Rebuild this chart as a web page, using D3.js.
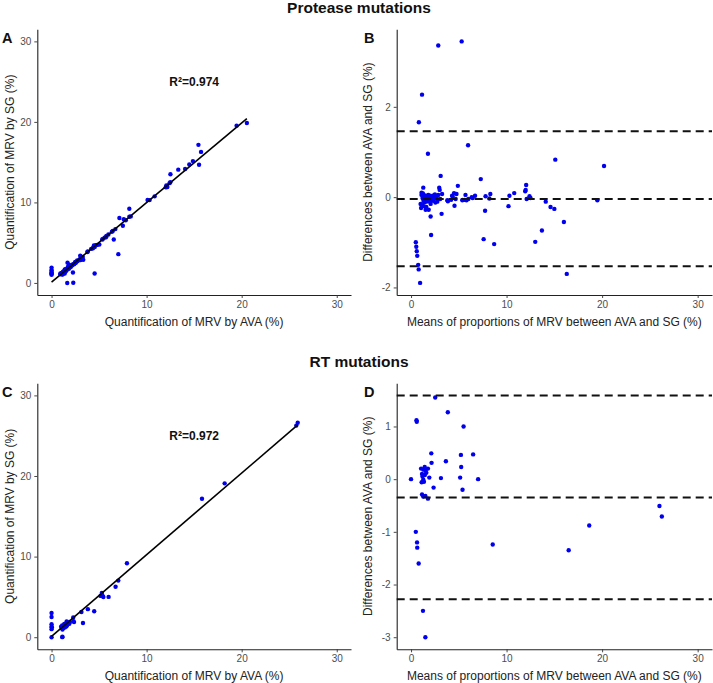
<!DOCTYPE html>
<html><head><meta charset="utf-8">
<script src="https://cdn.jsdelivr.net/npm/d3@7"></script>
<style>
body{margin:0;background:#fff}
text{font-family:"Liberation Sans",Arial,sans-serif}
</style>
</head><body>
<svg id="chart" width="713" height="683"></svg>
<script>
// ---- Data (Bland-Altman: mean of AVA & SG, difference AVA - SG) ----
const proteaseMeans = [2.85,5.3,1.15,0.82,5.97,1.77,15.1,20.2,3.1,7.3,2.95,3.0,4.9,12.05,11.95,10.8,10.3,10.2,12.1,12.5,
  1.28,1.1,8.3,8.2,7.8,7.75,7.6,8.7,6.7,6.45,6.0,5.7,5.6,5.4,4.76,4.5,4.3,4.55,4.2,3.86,3.2,2.05,2.1,1.85,1.53,1.05,
  0.5,0.55,0.6,0.65,0.75,0.8,0.95,14.1,14.6,15.0,13.7,13.0,16.0,16.3,19.5,
  1.1,1.2,1.25,1.3,1.35,1.4,1.45,1.5,1.55,1.6,1.7,1.75,1.8,1.9,1.95,2.0,2.1,2.2,2.3,2.35,2.45,2.5,2.6,2.7,2.75,2.85,3.05,3.25,
  1.0,1.15,1.3,1.6,2.05,2.55,3.8,4.35,4.67,5.37,5.8,6.35,12.4,12.0];
const proteaseDiffs = [3.36,3.45,2.27,1.66,1.15,0.96,0.83,0.69,0.47,0.40,0.21,0.16,0.25,0.27,0.13,0.09,0.03,-0.2,-0.04,-0.02,
  0.21,0.10,0.07,-0.03,0.02,-0.30,-0.93,-1.04,0.03,-0.02,-0.04,0.05,-0.06,-0.06,0.07,0.09,0.03,-0.19,-0.06,-0.09,-0.37,-0.43,-0.84,-0.28,-0.28,-0.24,
  -1.0,-1.1,-1.2,-1.3,-1.5,-1.6,-1.9,-0.1,-0.22,-0.26,-0.74,-0.99,-0.55,-1.7,-0.07,
  0.05,-0.02,0.08,-0.08,0.0,-0.12,0.04,-0.05,0.02,-0.1,0.0,-0.06,0.05,-0.02,-0.1,0.03,-0.05,0.0,-0.08,0.04,-0.03,0.06,-0.02,0.01,-0.1,0.05,-0.04,0.07,
  -0.15,-0.18,-0.2,-0.22,-0.15,-0.12,-0.07,0.02,-0.04,-0.07,-0.07,0.0,0.02,0.16];
const rtMeans = [0,2.53,3.85,0.57,0.6,5.5,2.12,6.5,5.22,3.65,2.15,5.25,1.05,1.43,1.77,1.53,1.15,1.2,1.28,1.91,1.11,3.13,5.14,7.02,
  2.36,5.39,1.15,1.28,1.5,1.77,0.5,0.63,0.65,0.8,1.25,1.5,8.55,16.5,18.65,26.0,26.25,1.3,1.6,1.45,1.35];
const rtDiffs = [0,1.55,1.27,1.12,1.09,1.0,0.49,0.47,0.46,0.34,0.31,0.23,0.20,0.23,0.20,0.16,0.10,0.05,-0.01,0.03,-0.06,0.02,0.03,0.0,
  -0.16,-0.20,-0.29,-0.33,-0.32,-0.37,-1.0,-1.2,-1.3,-1.6,-2.5,-3.0,-1.24,-1.35,-0.88,-0.51,-0.71,0.18,0.12,0.08,-0.05];
// limits of agreement: upper, mean, lower
const proteaseLimits = [1.46, -0.04, -1.53];
const rtLimits = [1.59, -0.35, -2.28];
const scatterTicks = [0, 10, 20, 30];
const proteaseDiffTicks = [-2, 0, 2];
const rtDiffTicks = [-3, -2, -1, 0, 1];
const r2Labels = ["R\u00B2=0.974", "R\u00B2=0.972"];
const rowTitles = ["Protease mutations", "RT mutations"];
const panelLetters = [["A", "B"], ["C", "D"]];
const scatterXTitle = "Quantification of MRV by AVA (%)";
const scatterYTitle = "Quantification of MRV by SG (%)";
const baXTitle = "Means of proportions of MRV between AVA and SG (%)";
const baYTitle = "Differences between AVA and SG (%)";

// ---- Layout ----
const svg = d3.select("#chart");
const cols = [{left: 37.3, right: 351}, {left: 396.7, right: 712}];
const rows = [{top: 29.3, bottom: 295, title: 13.3}, {top: 383.3, bottom: 649.3, title: 367.2}];
const pointColor = "#0000ee";
const fmt = d => String(d);

function styleAxis(g) {
  g.select(".domain").attr("stroke", "#222").attr("stroke-width", 1.1);
  g.selectAll(".tick line").attr("stroke", "#333").attr("stroke-width", 0.9);
  g.selectAll(".tick text").attr("fill", "#4d4d4d").attr("font-size", 10)
    .style("font-family", '"Liberation Sans",Arial,sans-serif');
}

function drawAxes(x, y, row, xTicks, yTicks, xTitle, yTitle, col) {
  const gx = svg.append("g").attr("transform", `translate(0,${row.bottom})`)
    .call(d3.axisBottom(x).tickValues(xTicks).tickFormat(fmt).tickSize(3).tickSizeOuter(0).tickPadding(3));
  styleAxis(gx);
  const gy = svg.append("g").attr("transform", `translate(${col.left},0)`)
    .call(d3.axisLeft(y).tickValues(yTicks).tickFormat(fmt).tickSize(3).tickSizeOuter(0).tickPadding(3));
  styleAxis(gy);
  svg.append("text").attr("x", (col.left + col.right) / 2).attr("y", row.bottom + 30.5)
    .attr("text-anchor", "middle").attr("font-size", 12).attr("fill", "#222").text(xTitle);
  const yc = (row.top + row.bottom) / 2;
  const xt = col === cols[0] ? 14.3 : 372.3;
  svg.append("text").attr("transform", `translate(${xt},${yc}) rotate(-90)`)
    .attr("text-anchor", "middle").attr("font-size", 12).attr("fill", "#222").text(yTitle);
}

function drawRow(i, means, diffs, limits, diffTicks) {
  const row = rows[i];
  const ava = means.map((m, k) => m + diffs[k] / 2);
  const sg = means.map((m, k) => m - diffs[k] / 2);

  // Title
  svg.append("text").attr("x", 359).attr("y", row.title).attr("text-anchor", "middle")
    .attr("font-size", 15.5).attr("font-weight", "bold").attr("fill", "#111").text(rowTitles[i]);

  // ---- Scatter panel ----
  const c0 = cols[0];
  const x = d3.scaleLinear().domain([-1.5, 31.5]).range([c0.left, c0.right]);
  const y = d3.scaleLinear().domain([-1.5, 31.5]).range([row.bottom, row.top]);
  drawAxes(x, y, row, scatterTicks, scatterTicks, scatterXTitle, scatterYTitle, c0);

  // least squares fit of SG on AVA
  const mx = d3.mean(ava), my = d3.mean(sg);
  const sxy = d3.sum(ava, (v, k) => (v - mx) * (sg[k] - my));
  const sxx = d3.sum(ava, v => (v - mx) * (v - mx));
  const slope = sxy / sxx, intercept = my - slope * mx;
  const xr = d3.extent(ava);
  const fit = xr.map(v => [v, intercept + slope * v]);

  svg.append("g").selectAll("circle").data(ava).join("circle")
    .attr("cx", d => x(d)).attr("cy", (d, k) => y(sg[k])).attr("r", 2.2).attr("fill", pointColor);
  svg.append("path").datum(fit)
    .attr("d", d3.line().x(d => x(d[0])).y(d => y(d[1])))
    .attr("stroke", "#000").attr("stroke-width", 1.6).attr("fill", "none");

  svg.append("text").attr("x", x(15)).attr("y", y(25) + 4.3).attr("text-anchor", "middle")
    .attr("font-size", 12).attr("font-weight", "bold").attr("fill", "#111").text(r2Labels[i]);

  // ---- Bland-Altman panel ----
  const c1 = cols[1];
  const bx = d3.scaleLinear().domain([-1.5, 31.5]).range([c1.left, c1.right]);
  const ext = d3.extent(diffs.concat(limits));
  const pad = (ext[1] - ext[0]) * 0.05;
  const by = d3.scaleLinear().domain([ext[0] - pad, ext[1] + pad]).range([row.bottom, row.top]);
  drawAxes(bx, by, row, scatterTicks, diffTicks, baXTitle, baYTitle, c1);

  svg.append("g").selectAll("circle").data(means).join("circle")
    .attr("cx", d => bx(d)).attr("cy", (d, k) => by(diffs[k])).attr("r", 2.2).attr("fill", pointColor);

  svg.append("g").selectAll("line").data(limits).join("line")
    .attr("x1", c1.left).attr("x2", c1.right)
    .attr("y1", d => by(d)).attr("y2", d => by(d))
    .attr("stroke", "#111").attr("stroke-width", 2).attr("stroke-dasharray", "8,5");

  // panel letters
  svg.append("text").attr("x", 2).attr("y", row.top + 13.6).attr("font-size", 14.5)
    .attr("font-weight", "bold").attr("fill", "#111").text(panelLetters[i][0]);
  svg.append("text").attr("x", 364).attr("y", row.top + 13.6).attr("font-size", 14.5)
    .attr("font-weight", "bold").attr("fill", "#111").text(panelLetters[i][1]);
}

drawRow(0, proteaseMeans, proteaseDiffs, proteaseLimits, proteaseDiffTicks);
drawRow(1, rtMeans, rtDiffs, rtLimits, rtDiffTicks);
</script>
</body></html>
